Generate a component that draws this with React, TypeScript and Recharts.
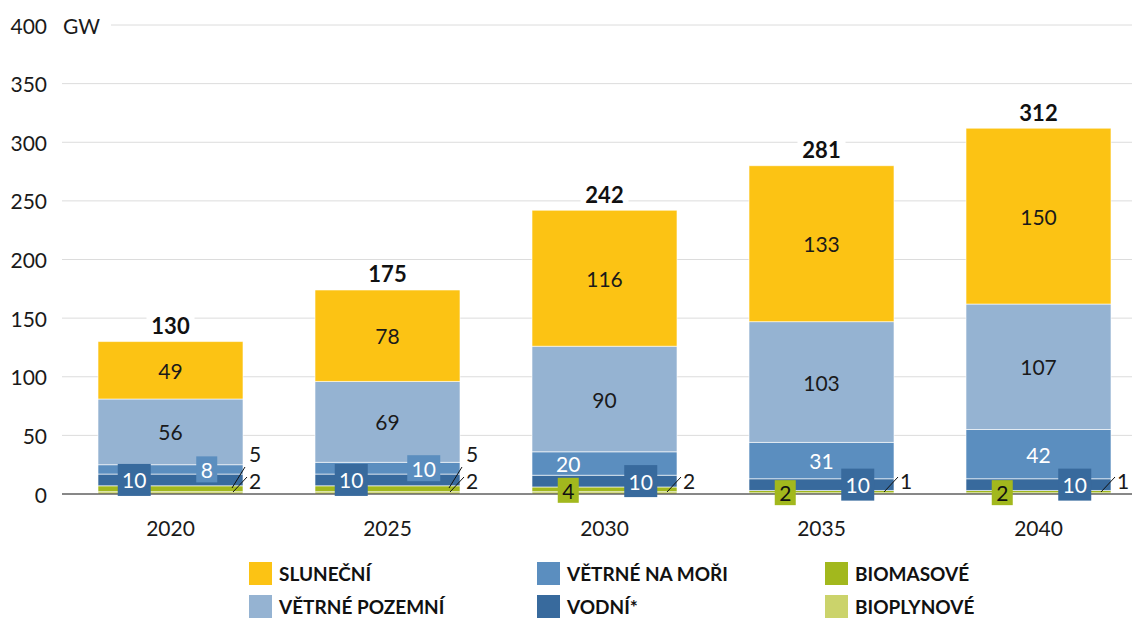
import React from 'react';
import { BarChart, Bar, XAxis, YAxis, CartesianGrid, LabelList } from 'recharts';

const years = ['2020', '2025', '2030', '2035', '2040'];
const bioplynove = [2, 2, 2, 1, 1];
const biomasove = [5, 5, 4, 2, 2];
const vodni = [10, 10, 10, 10, 10];
const vetrneNaMori = [8, 10, 20, 31, 42];
const vetrnePozemni = [56, 69, 90, 103, 107];
const slunecni = [49, 78, 116, 133, 150];
const totals = [130, 175, 242, 281, 312];
const yTicks = [0, 50, 100, 150, 200, 250, 300, 350, 400];

const COLORS = {
  bioplynove: '#CBD36B',
  biomasove: '#A2B81D',
  vodni: '#386A9D',
  mori: '#5B8EBF',
  pozemni: '#95B3D2',
  slunecni: '#FCC314',
};

const data = years.map((year, i) => ({
  year,
  bioplynove: bioplynove[i],
  biomasove: biomasove[i],
  vodni: vodni[i],
  mori: vetrneNaMori[i],
  pozemni: vetrnePozemni[i],
  slunecni: slunecni[i],
}));

const legendRows = [
  [
    { name: 'SLUNEČNÍ', color: COLORS.slunecni },
    { name: 'VĚTRNÉ NA MOŘI', color: COLORS.mori },
    { name: 'BIOMASOVÉ', color: COLORS.biomasove },
  ],
  [
    { name: 'VĚTRNÉ POZEMNÍ', color: COLORS.pozemni },
    { name: 'VODNÍ*', color: COLORS.vodni },
    { name: 'BIOPLYNOVÉ', color: COLORS.bioplynove },
  ],
];

const FONT = 'Lato, "Open Sans", sans-serif';
const TXT = '#1a1a1a';
const LBL = 21;
const TICK = 21;

const geo = (p: any) => {
  const vb = p.viewBox || {};
  const x = p.x ?? vb.x;
  const y = p.y ?? vb.y;
  const width = p.width ?? vb.width;
  const height = p.height ?? vb.height;
  return { x: Number(x), y: Number(y), width: Number(width), height: Number(height) };
};

const CenterLabel = (p: any) => {
  const { x, y, width, height } = geo(p);
  return (
    <text x={x + width / 2} y={y + height / 2} textAnchor="middle" dominantBaseline="central"
      fontFamily={FONT} fontSize={LBL} fill={TXT}>{p.value}</text>
  );
};

// Labels of the small lower segments are drawn from the top (sluneční) bar so that
// they sit above every bar; their positions come from that bar's own geometry.
const StackLabels = (p: any) => {
  const { x, y, width, height } = geo(p);
  const i = p.index;
  const ppu = height / slunecni[i];
  const base = y + height + (vetrnePozemni[i] + vetrneNaMori[i] + vodni[i] + biomasove[i] + bioplynove[i]) * ppu;
  const seg = (below: number, val: number) => ({ top: base - (below + val) * ppu, bot: base - below * ppu });
  const rx = x + width;
  const out: any[] = [];

  const cx0 = x + width / 2;
  out.push(
    <g key="tot">
      <rect x={cx0 - 24} y={y - 30} width={48} height={27} fill="#fff" />
      <text x={cx0} y={y - 16} textAnchor="middle" dominantBaseline="central"
        fontFamily={FONT} fontSize={22} fontWeight={700} fill="#111">{totals[i]}</text>
    </g>
  );

  const sm = seg(bioplynove[i] + biomasove[i] + vodni[i], vetrneNaMori[i]);
  const smc = (sm.top + sm.bot) / 2;
  if (i <= 1) {
    const cx = x + width * 0.75;
    const w = String(vetrneNaMori[i]).length > 1 ? 33 : 21;
    out.push(
      <g key="mori">
        <rect x={cx - w / 2} y={smc - 13} width={w} height={26} fill={COLORS.mori} />
        <text x={cx} y={smc} textAnchor="middle" dominantBaseline="central"
          fontFamily={FONT} fontSize={LBL} fill="#fff">{vetrneNaMori[i]}</text>
      </g>
    );
  } else {
    const cx = i === 2 ? x + width * 0.25 : x + width / 2;
    out.push(
      <text key="mori" x={cx} y={smc} textAnchor="middle" dominantBaseline="central"
        fontFamily={FONT} fontSize={LBL} fill="#fff">{vetrneNaMori[i]}</text>
    );
  }

  const sv = seg(bioplynove[i] + biomasove[i], vodni[i]);
  const svc = (sv.top + sv.bot) / 2;
  const vx = i <= 1 ? x + width * 0.25 : x + width * 0.75;
  out.push(
    <g key="vodni">
      <rect x={vx - 16.5} y={svc - 16} width={33} height={32} fill={COLORS.vodni} />
      <text x={vx} y={svc} textAnchor="middle" dominantBaseline="central"
        fontFamily={FONT} fontSize={LBL} fill="#fff">{vodni[i]}</text>
    </g>
  );

  const sb = seg(bioplynove[i], biomasove[i]);
  if (i <= 1) {
    out.push(
      <g key="bio">
        <line x1={rx - 11} y1={base - 6} x2={rx + 2} y2={base - 27} stroke="#111" strokeWidth={1} />
        <text x={rx + 6} y={base - 41} dominantBaseline="central"
          fontFamily={FONT} fontSize={LBL} fill={TXT}>{biomasove[i]}</text>
      </g>
    );
  } else {
    const cx = x + width * 0.25;
    const cy = (sb.top + sb.bot) / 2 + 1;
    out.push(
      <g key="bio">
        <rect x={cx - 10.5} y={cy - 12.5} width={21} height={25} fill={COLORS.biomasove} />
        <text x={cx} y={cy} textAnchor="middle" dominantBaseline="central"
          fontFamily={FONT} fontSize={LBL} fill="#111">{biomasove[i]}</text>
      </g>
    );
  }

  out.push(
    <g key="biopl">
      <line x1={rx - 10} y1={base - 2} x2={rx + 4} y2={base - 17} stroke="#111" strokeWidth={1} />
      <text x={rx + 6} y={base - 14} dominantBaseline="central"
        fontFamily={FONT} fontSize={LBL} fill={TXT}>{bioplynove[i]}</text>
    </g>
  );

  return <g>{out}</g>;
};

const YTick = (p: any) => {
  const { x, y, payload } = p;
  return (
    <g>
      <text x={x} y={y} textAnchor="end" dominantBaseline="central" fontFamily={FONT} fontSize={TICK} fill={TXT}>
        {payload.value}
      </text>
      {payload.value === 400 && (
        <g>
          <rect x={x + 12} y={y - 12} width={52} height={24} fill="#fff" />
          <text x={x + 16} y={y} dominantBaseline="central" fontFamily={FONT} fontSize={TICK} fill={TXT}>GW</text>
        </g>
      )}
    </g>
  );
};

const XTick = (p: any) => {
  const { x, y, payload } = p;
  return (
    <text x={x} y={y} textAnchor="middle" dominantBaseline="central" fontFamily={FONT} fontSize={TICK} fill={TXT}>
      {payload.value}
    </text>
  );
};

export default function App() {
  return (
    <div style={{ position: 'relative', width: 1132, height: 610, overflow: 'hidden', fontFamily: FONT }}>
      <BarChart width={1140} height={610} data={data}
        margin={{ top: 17, right: 1, bottom: 84, left: 0 }} barSize={145}>
        <CartesianGrid vertical={false} stroke="#dcdcdc" strokeWidth={1} />
        <XAxis dataKey="year" tickLine={false} tickSize={0} tickMargin={33}
          axisLine={{ stroke: '#222', strokeWidth: 1 }} tick={<XTick />} height={40} />
        <YAxis domain={[0, 400]} ticks={yTicks} tickLine={false} axisLine={false}
          tickSize={0} tickMargin={15} width={54} tick={<YTick />} />
        <Bar dataKey="bioplynove" stackId="a" fill={COLORS.bioplynove} stroke="#fff" strokeWidth={0.6} isAnimationActive={false} />
        <Bar dataKey="biomasove" stackId="a" fill={COLORS.biomasove} stroke="#fff" strokeWidth={0.6} isAnimationActive={false} />
        <Bar dataKey="vodni" stackId="a" fill={COLORS.vodni} stroke="#fff" strokeWidth={0.6} isAnimationActive={false} />
        <Bar dataKey="mori" stackId="a" fill={COLORS.mori} stroke="#fff" strokeWidth={0.6} isAnimationActive={false} />
        <Bar dataKey="pozemni" stackId="a" fill={COLORS.pozemni} stroke="#fff" strokeWidth={0.6} isAnimationActive={false}>
          <LabelList dataKey="pozemni" content={<CenterLabel />} />
        </Bar>
        <Bar dataKey="slunecni" stackId="a" fill={COLORS.slunecni} stroke="#fff" strokeWidth={0.6} isAnimationActive={false}>
          <LabelList dataKey="slunecni" content={<CenterLabel />} />
          <LabelList dataKey="slunecni" content={<StackLabels />} />
        </Bar>
      </BarChart>
      <div style={{ position: 'absolute', top: 549, left: 241 }}>
        {legendRows.map((row, ri) => (
          <div key={ri} style={{ display: 'flex', height: 33 }}>
            {row.map((item, ci) => (
              <div key={ci} style={{ display: 'flex', alignItems: 'center', width: ci === 2 ? 200 : 288 }}>
                <div style={{ width: 23, height: 23, background: item.color, marginRight: 7 }} />
                <span style={{ fontFamily: FONT, fontWeight: 700, fontSize: 19, color: '#111' }}>{item.name}</span>
              </div>
            ))}
          </div>
        ))}
      </div>
    </div>
  );
}
